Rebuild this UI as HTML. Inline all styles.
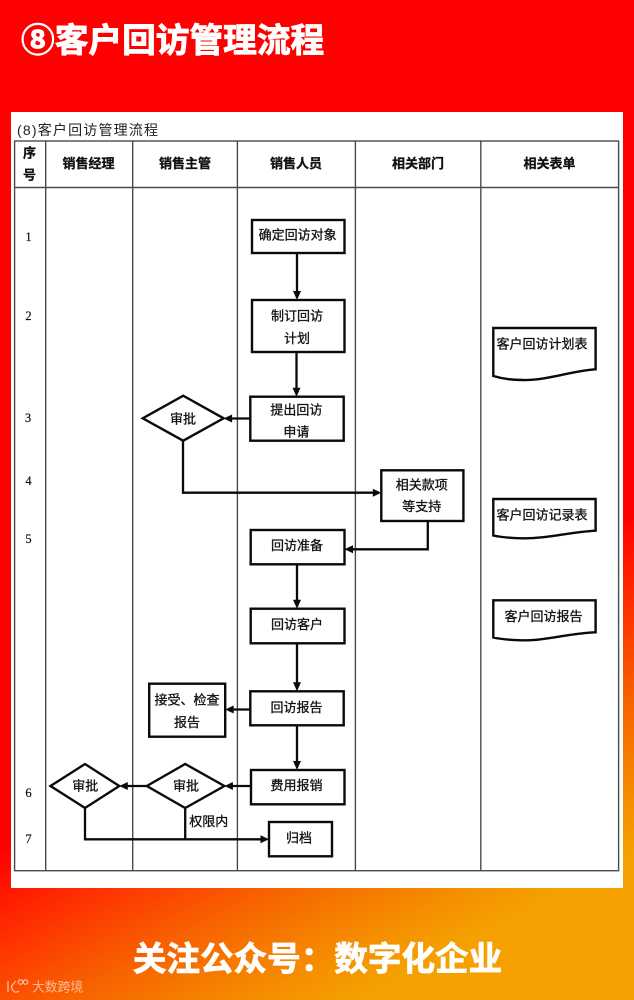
<!DOCTYPE html>
<html lang="zh">
<head>
<meta charset="utf-8">
<title>客户回访管理流程</title>
<style>
html,body{margin:0;padding:0;width:634px;height:1000px;overflow:hidden;background:#f00}
svg{display:block}
text{font-family:"Liberation Sans","Noto Sans CJK SC",sans-serif}
.t{font-size:13px;fill:#111;stroke:#111;stroke-width:.3;text-anchor:middle;dominant-baseline:central}
.h{font-size:13px;font-weight:700;fill:#111;stroke:#111;stroke-width:.3;text-anchor:middle;dominant-baseline:central}
.n{font-family:"Liberation Serif",serif;font-size:12.5px;fill:#111;stroke:#111;stroke-width:.2;text-anchor:middle;dominant-baseline:central}
.g{fill:none;stroke:#4a4a4a;stroke-width:1.4}
.b{fill:#fff;stroke:#0a0a0a;stroke-width:2.4}
.l{fill:none;stroke:#0a0a0a;stroke-width:2.3}
.a{fill:#0a0a0a}
</style>
</head>
<body>
<svg width="634" height="1000" viewBox="0 0 634 1000" xmlns="http://www.w3.org/2000/svg">
<defs>
<linearGradient id="bg2" gradientUnits="userSpaceOnUse" x1="0" y1="0" x2="553" y2="1043">
<stop offset="0.636" stop-color="#ff0000"/>
<stop offset="0.704" stop-color="#ff3000"/>
<stop offset="0.778" stop-color="#f76500"/>
<stop offset="0.852" stop-color="#f59000"/>
<stop offset="0.887" stop-color="#f5a000"/>
<stop offset="1" stop-color="#f5a000"/>
</linearGradient>
</defs>
<rect width="634" height="1000" fill="url(#bg2)"/>
<text x="21" y="41" font-size="33.7" font-weight="700" fill="#fff" dominant-baseline="central" stroke="#fff" stroke-width=".9">⑧客户回访管理流程</text>
<rect x="11" y="112" width="612" height="776" fill="#fff"/>
<text x="17" y="130" font-size="14" fill="#222" dominant-baseline="central" textLength="141" lengthAdjust="spacing">(8)客户回访管理流程</text>

<rect class="g" x="14.6" y="141" width="604" height="729.7"/>
<path class="g" d="M14.6 187.5H618.6M45.7 141V870.7M132.7 141V870.7M237.4 141V870.7M355.4 141V870.7M480.8 141V870.7"/>

<text class="h" x="29.5" y="153">序</text>
<text class="h" x="29.5" y="175">号</text>
<text class="h" x="88.5" y="163.5">销售经理</text>
<text class="h" x="185" y="163.5">销售主管</text>
<text class="h" x="296" y="163.5">销售人员</text>
<text class="h" x="418" y="163.5">相关部门</text>
<text class="h" x="549.5" y="163.5">相关表单</text>

<text class="n" x="28.5" y="237">1</text>
<text class="n" x="28.5" y="316">2</text>
<text class="n" x="28" y="418">3</text>
<text class="n" x="28.5" y="481">4</text>
<text class="n" x="28.5" y="539">5</text>
<text class="n" x="28.5" y="793">6</text>
<text class="n" x="28.5" y="839">7</text>

<!-- connectors -->
<path class="l" d="M297 253V293M296.5 352V389M250 418.5H229M183 440.7V492.7H374M427.8 521V549.3H351M297 564.3V601M297 643.3V684M250 709.5H232M297 725.3V763M251 786H231M146.8 786H127M85 808V839.3H261M185.2 808V839.3"/>
<path class="a" d="M297 300l-4 -9h8zM296.5 396.7l-4 -9h8zM223.6 418.5l8.5 -4v8zM381.3 492.7l-8.5 -4v8zM344.5 549.3l8.5 -4v8zM297 608.7l-4 -9h8zM297 691.3l-4 -9h8zM225.2 709.5l8.5 -4v8zM297 770l-4 -9h8zM224.4 786l8.5 -4v8zM119.3 786l8.5 -4v8zM269 839.3l-8.5 -4v8z"/>

<!-- process boxes -->
<rect class="b" x="252" y="220" width="92.5" height="33"/>
<rect class="b" x="252" y="300" width="92.5" height="52"/>
<rect class="b" x="250.3" y="396.7" width="93.4" height="44"/>
<rect class="b" x="381.3" y="470.3" width="82.1" height="50.7"/>
<rect class="b" x="250.7" y="530" width="93.8" height="34.3"/>
<rect class="b" x="250.7" y="608.7" width="93.8" height="34.6"/>
<rect class="b" x="250.3" y="691.3" width="93.4" height="34"/>
<rect class="b" x="149.2" y="683.7" width="76" height="53"/>
<rect class="b" x="251" y="770" width="93.5" height="34.3"/>
<rect class="b" x="269" y="822" width="63" height="34.3"/>

<!-- decisions -->
<path class="b" d="M142.7 418.3L183.2 395.7L223.6 418.3L183.2 440.7Z"/>
<path class="b" d="M146.8 786L185.2 764L224.4 786L185.2 808Z"/>
<path class="b" d="M50.5 786L85 764L119.3 786L85 808Z"/>

<!-- documents -->
<path class="b" d="M493.3 328H595.6V369.3C570 371 545 381 522 380C508 380 500 378 493.3 376Z"/>
<path class="b" d="M493.3 499H595.6V530.7C570 532 545 539 522 538.3C508 538 500 537 493.3 535.5Z"/>
<path class="b" d="M493.3 600.3H595.6V632.3C570 633 545 641 522 640.3C508 640 500 639 493.3 637.5Z"/>

<!-- labels -->
<text class="t" x="297.6" y="235">确定回访对象</text>
<text class="t" x="297" y="316">制订回访</text>
<text class="t" x="297" y="338.7">计划</text>
<text class="t" x="296.4" y="410">提出回访</text>
<text class="t" x="296.4" y="432">申请</text>
<text class="t" x="183" y="419">审批</text>
<text class="t" x="421.8" y="485">相关款项</text>
<text class="t" x="421.8" y="506.7">等支持</text>
<text class="t" x="297" y="545.7">回访准备</text>
<text class="t" x="297" y="624.3">回访客户</text>
<text class="t" x="296.5" y="707.7">回访报告</text>
<text class="t" x="187" y="700">接受、检查</text>
<text class="t" x="187" y="722.7">报告</text>
<text class="t" x="296.5" y="785.3">费用报销</text>
<text class="t" x="186" y="786">审批</text>
<text class="t" x="85.3" y="786">审批</text>
<text class="t" x="208.7" y="821.7">权限内</text>
<text class="t" x="299" y="838">归档</text>
<text class="t" x="542" y="344">客户回访计划表</text>
<text class="t" x="542" y="515">客户回访记录表</text>
<text class="t" x="543.5" y="616.3">客户回访报告</text>

<!-- footer -->
<text x="317.5" y="960" font-size="33.6" font-weight="700" fill="#fff" text-anchor="middle" dominant-baseline="central" stroke="#fff" stroke-width=".8">关注公众号：数字化企业</text>
<g fill="none" stroke="#fff" stroke-opacity=".6" stroke-width="1.3">
<path d="M8 981V992M16 981L11.5 986C12 991 15 994 19 991"/>
<circle cx="20.5" cy="982" r="2.2"/>
<circle cx="25.5" cy="982" r="2.2"/>
</g>
<text x="32" y="987" font-size="12.8" fill="#fff" fill-opacity=".6" dominant-baseline="central">大数跨境</text>
</svg>
</body>
</html>
